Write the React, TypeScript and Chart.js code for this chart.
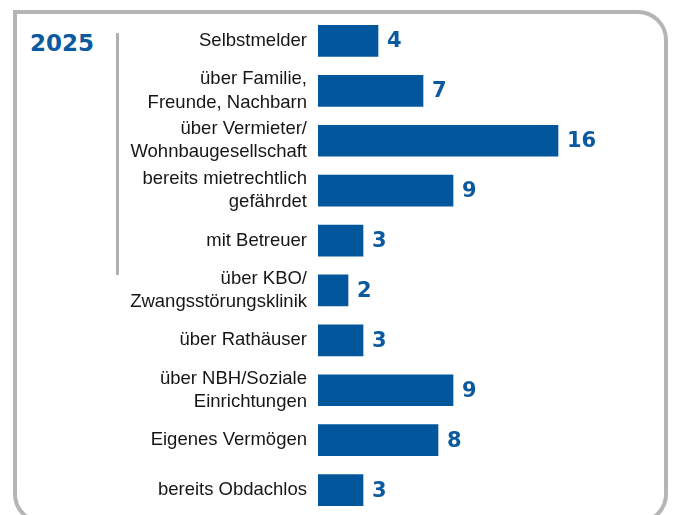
import React, { useEffect, useRef } from "react";
import { Chart, registerables } from "chart.js";

Chart.register(...registerables);

const yearLabel = "2025";
const categories: string[][] = [
  ["Selbstmelder"],
  ["über Familie,", "Freunde, Nachbarn"],
  ["über Vermieter/", "Wohnbaugesellschaft"],
  ["bereits mietrechtlich", "gefährdet"],
  ["mit Betreuer"],
  ["über KBO/", "Zwangsstörungsklinik"],
  ["über Rathäuser"],
  ["über NBH/Soziale", "Einrichtungen"],
  ["Eigenes Vermögen"],
  ["bereits Obdachlos"],
];
const values: number[] = [4, 7, 16, 9, 3, 2, 3, 9, 8, 3];

const BLUE = "#02569b";
const LABEL_BLUE = "#0b5aa0";

const valueLabelPlugin = {
  id: "valueLabels",
  afterDatasetsDraw(chart: any) {
    const ctx = chart.ctx;
    const meta = chart.getDatasetMeta(0);
    ctx.save();
    ctx.fillStyle = LABEL_BLUE;
    ctx.font = "bold 21px 'DejaVu Sans'";
    ctx.textAlign = "left";
    ctx.textBaseline = "middle";
    meta.data.forEach((bar: any, i: number) => {
      ctx.fillText(String(values[i]), bar.x + 9, bar.y + 1);
    });
    ctx.restore();
  },
};

export default function App() {
  const canvasRef = useRef<HTMLCanvasElement | null>(null);

  useEffect(() => {
    if (!canvasRef.current) return;
    const chart = new Chart(canvasRef.current, {
      type: "bar",
      data: {
        labels: categories,
        datasets: [
          {
            data: values,
            backgroundColor: BLUE,
            borderWidth: 0,
            barThickness: 31,
          },
        ],
      },
      options: {
        indexAxis: "y",
        responsive: false,
        animation: false,
        layout: { padding: { top: 16, bottom: 0, left: 0, right: 55 } },
        plugins: {
          legend: { display: false },
          tooltip: { enabled: false },
        },
        scales: {
          x: {
            display: false,
            min: 0,
            max: 20,
          },
          y: {
            grid: { display: false, drawTicks: false },
            border: { display: false },
            ticks: {
              color: "#161616",
              padding: 11,
              font: { family: "'Liberation Sans', Arial", size: 18.5, lineHeight: 1.26 },
            },
            afterFit: (scale: any) => {
              scale.width = 318;
              scale.paddingTop = 0;
              scale.paddingBottom = 0;
            },
          },
        },
      },
      plugins: [valueLabelPlugin],
    });
    return () => chart.destroy();
  }, []);

  return (
    <div style={{ position: "fixed", left: 0, top: 0, width: 673, height: 515, overflow: "hidden", background: "#fff" }}>
      <div
        style={{
          position: "absolute",
          left: 13,
          top: 10,
          width: 647,
          height: 506,
          border: "4px solid #b5b5b5",
          borderRadius: "0 30px 30px 30px",
        }}
      />
      <div
        style={{
          position: "absolute",
          left: 30,
          top: 29,
          fontFamily: "'DejaVu Sans'",
          fontWeight: "bold",
          fontSize: 23,
          color: LABEL_BLUE,
          lineHeight: "28px",
        }}
      >
        {yearLabel}
      </div>
      <div
        style={{
          position: "absolute",
          left: 116,
          top: 33,
          width: 2.5,
          height: 242,
          background: "#b0b0b0",
        }}
      />
      <canvas ref={canvasRef} width={673} height={515} style={{ position: "absolute", left: 0, top: 0 }} />
    </div>
  );
}
